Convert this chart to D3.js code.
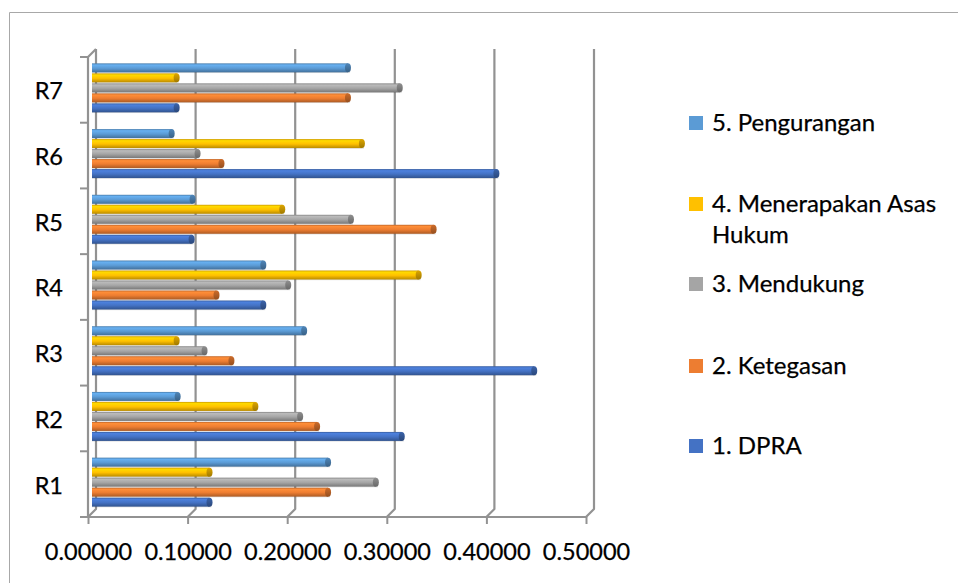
<!DOCTYPE html>
<html>
<head>
<meta charset="utf-8">
<script src="https://cdn.jsdelivr.net/npm/d3@7"></script>
<style>
  html, body { margin: 0; padding: 0; background: #fff; }
  svg { display: block; font-family: Lato, "Open Sans", sans-serif; }
</style>
</head>
<body>
<svg id="chart" width="958" height="583"></svg>
<script>
// Categories (bottom to top) and series values
const categories = ["R1", "R2", "R3", "R4", "R5", "R6", "R7"];
const seriesNames = ["1. DPRA", "2. Ketegasan", "3. Mendukung", "4. Menerapakan Asas Hukum", "5. Pengurangan"];
const dpra        = [0.121, 0.314, 0.447, 0.175, 0.103, 0.409, 0.088];
const ketegasan   = [0.240, 0.229, 0.143, 0.128, 0.346, 0.133, 0.260];
const mendukung   = [0.288, 0.212, 0.116, 0.200, 0.263, 0.109, 0.312];
const menerapakan = [0.121, 0.167, 0.088, 0.331, 0.194, 0.274, 0.088];
const pengurangan = [0.240, 0.089, 0.216, 0.175, 0.104, 0.083, 0.260];
const xTicks = [0, 0.1, 0.2, 0.3, 0.4, 0.5];
const colors = ["#4472C4", "#ED7D31", "#A5A5A5", "#FFC000", "#5B9BD5"];

const seriesValues = [dpra, ketegasan, mendukung, menerapakan, pengurangan];

const svg = d3.select("#chart");
const defs = svg.append("defs");
const fontFamily = "Lato, sans-serif";

// Outer chart frame
svg.append("path")
  .attr("d", "M9.5,600 V12.5 H1000")
  .attr("fill", "none")
  .attr("stroke", "#a8a8a8")
  .attr("stroke-width", 1);

// Front plane scales; the back wall sits one depth step up and to the right
const x = d3.scaleLinear().domain([0, 0.5]).range([88, 586]);
const y = d3.scaleBand().domain(categories.slice().reverse()).range([57, 517]);
const depth = { dx: 8, dy: -8 };
const barShift = { dx: 4, dy: -2 };

const gridColor = "#929292";
const grid = svg.append("g").attr("fill", "none").attr("stroke", gridColor)
  .attr("stroke-width", 2.2).attr("stroke-linejoin", "round");

// Back-wall gridlines folding down onto the floor edge
xTicks.forEach(t => {
  const fx = x(t);
  grid.append("path")
    .attr("d", `M${fx + depth.dx},${y.range()[0] + depth.dy} V${y.range()[1] + depth.dy} L${fx},${y.range()[1]}`);
});
// Left side wall and floor front edge
grid.append("path")
  .attr("d", `M${x(0) + depth.dx},${y.range()[0] + depth.dy} L${x(0)},${y.range()[0]} V${y.range()[1]} H${x(0.5)}`);

// Bottom axis
const xAxis = d3.axisBottom(x).tickValues(xTicks).tickFormat(d3.format(".5f")).tickSize(7).tickSizeOuter(0);
const gx = svg.append("g").attr("transform", `translate(0,${y.range()[1]})`).call(xAxis);
gx.select(".domain").remove();
gx.selectAll(".tick line").attr("stroke", gridColor).attr("stroke-width", 2);
gx.selectAll(".tick text")
  .attr("y", 43).attr("dy", 0)
  .attr("fill", "#000").attr("font-size", 23.5).attr("font-family", fontFamily)
  .attr("stroke", "#000").attr("stroke-width", 0.25);

// Left axis: boundary ticks and centred category labels
const bounds = categories.map(c => y(c)).concat([y.range()[1]]);
svg.append("g").selectAll("line").data(bounds).join("line")
  .attr("x1", x(0) - 8).attr("x2", x(0))
  .attr("y1", d => d).attr("y2", d => d)
  .attr("stroke", gridColor).attr("stroke-width", 2);

const yAxis = d3.axisLeft(y).tickSize(0).tickPadding(25);
const gy = svg.append("g").attr("transform", `translate(${x(0)},0)`).call(yAxis);
gy.select(".domain").remove();
gy.selectAll(".tick text")
  .attr("dy", "0.36em").attr("y", 1)
  .attr("fill", "#000").attr("font-size", 23.5).attr("font-family", fontFamily)
  .attr("stroke", "#000").attr("stroke-width", 0.25);

// Cylinder-like gradients for each series
colors.forEach((c, i) => {
  const base = d3.color(c);
  const g = defs.append("linearGradient").attr("id", "grad" + i)
    .attr("x1", 0).attr("y1", 0).attr("x2", 0).attr("y2", 1);
  g.append("stop").attr("offset", "0%").attr("stop-color", base.darker(0.6));
  g.append("stop").attr("offset", "18%").attr("stop-color", base.brighter(0.35));
  g.append("stop").attr("offset", "55%").attr("stop-color", base);
  g.append("stop").attr("offset", "100%").attr("stop-color", base.darker(0.9));
  const e = defs.append("linearGradient").attr("id", "cap" + i)
    .attr("x1", 0).attr("y1", 0).attr("x2", 0).attr("y2", 1);
  e.append("stop").attr("offset", "0%").attr("stop-color", base.darker(0.4));
  e.append("stop").attr("offset", "100%").attr("stop-color", base.darker(1.3));
});

// Series stacked within a band: DPRA lowest, Pengurangan highest
const barStep = 10, barH = 9;
const inner = d3.scaleBand().domain(d3.range(seriesNames.length).reverse())
  .range([0, barStep * seriesNames.length]);

const rows = [];
categories.forEach((cat, ci) => {
  seriesValues.forEach((vals, si) => rows.push({ cat, si, v: vals[ci] }));
});

const bars = svg.append("g");
const capR = 3;
rows.forEach(d => {
  const bandTop = y(d.cat) + (y.bandwidth() - barStep * seriesNames.length) / 2 + barShift.dy;
  const by = bandTop + inner(d.si) + (barStep - barH) / 2;
  const x0 = x(0) + barShift.dx;
  const x1 = x(d.v) + barShift.dx;
  // soft shadow below
  bars.append("rect")
    .attr("x", x0).attr("y", by + barH - 0.5)
    .attr("width", Math.max(0, x1 - x0 - 1)).attr("height", 1.2)
    .attr("fill", "#000").attr("opacity", 0.12);
  bars.append("rect")
    .attr("x", x0).attr("y", by)
    .attr("width", Math.max(0, x1 - x0 - capR)).attr("height", barH)
    .attr("fill", `url(#grad${d.si})`);
  bars.append("ellipse")
    .attr("cx", x1 - capR).attr("cy", by + barH / 2)
    .attr("rx", capR).attr("ry", barH / 2)
    .attr("fill", `url(#cap${d.si})`);
});

// Legend, top entry is the last series
const legendTops = [439, 359, 277, 197, 116];
const legend = svg.append("g");
seriesNames.forEach((name, i) => {
  const top = legendTops[i];
  legend.append("rect")
    .attr("x", 689).attr("y", top).attr("width", 14).attr("height", 14)
    .attr("fill", colors[i]);
  const t = legend.append("text")
    .attr("x", 712).attr("y", top + 15)
    .attr("font-size", 24).attr("fill", "#000")
    .attr("stroke", "#000").attr("stroke-width", 0.25)
    .attr("font-family", fontFamily);
  if (name === "4. Menerapakan Asas Hukum") {
    t.append("tspan").attr("x", 712).text("4. Menerapakan Asas");
    t.append("tspan").attr("x", 712).attr("dy", 31).text("Hukum");
  } else {
    t.text(name);
  }
});
</script>
</body>
</html>
